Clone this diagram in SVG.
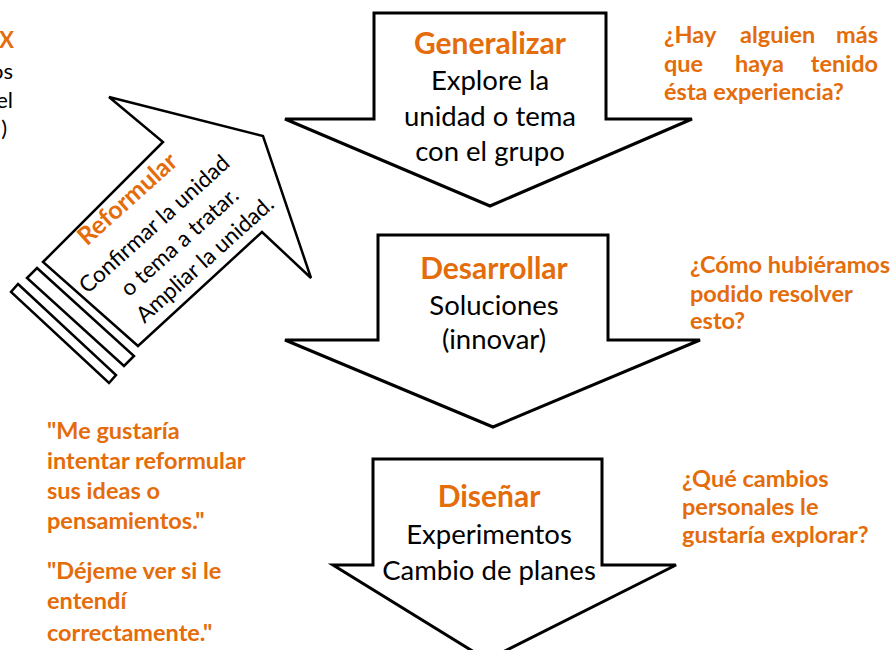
<svg xmlns="http://www.w3.org/2000/svg" width="896" height="650" viewBox="0 0 896 650">
<style>
.arrow{fill:#fff;stroke:#000;stroke-width:3;stroke-linejoin:miter}
.rarrow{fill:#fff;stroke:#000;stroke-width:2.5;stroke-linejoin:miter}
.title{font-family:Lato,"Open Sans",sans-serif;font-weight:bold;font-size:30px;fill:#E46C0A;text-anchor:middle}
.body{font-family:Lato,"Open Sans",sans-serif;font-size:27.5px;fill:#000;text-anchor:middle}
.note{font-family:Lato,"Open Sans",sans-serif;font-weight:bold;font-size:23.5px;fill:#E46C0A}
.edge{font-family:Lato,"Open Sans",sans-serif;font-size:22px;fill:#000;text-anchor:end}
.rt{font-family:Lato,"Open Sans",sans-serif;font-size:22.5px;fill:#000;text-anchor:middle}
.rtt{font-family:Lato,"Open Sans",sans-serif;font-weight:bold;font-size:25px;fill:#E46C0A;text-anchor:middle}
</style>
<rect width="896" height="650" fill="#fff"/>
<g id="clipped-text">
<text class="edge" x="14" y="48" style="font-weight:bold;fill:#E46C0A">X</text>
<text class="edge" x="13" y="79">os</text>
<text class="edge" x="13" y="108">el</text>
<text class="edge" x="7" y="136">)</text>
</g>
<g id="connectors"></g>
<g id="reformular">
<polygon class="rarrow" points="18,284 116,375 109,383 11,292"/>
<polygon class="rarrow" points="37,268 134,356 124,366 27,278"/>
<polygon class="rarrow" points="43,262 163,142 109,97 263,136 311,278 262,232 138,346"/>
<g transform="translate(43,262) rotate(-42)">
<text class="rtt" x="105" y="18">Reformular</text>
<text class="rt" x="108" y="54">Confirmar la unidad</text>
<text class="rt" x="115" y="84">o tema a tratar.</text>
<text class="rt" x="122" y="114">Ampliar la unidad.</text>
</g>
</g>
<g id="generalizar">
<polygon class="arrow" points="374,13 606,13 606,119 692,119 490,206 285,119 374,119"/>
<text class="title" x="490" y="54">Generalizar</text>
<text class="body" x="490" y="90">Explore la</text>
<text class="body" x="490" y="126">unidad o tema</text>
<text class="body" x="490" y="161">con el grupo</text>
</g>
<g id="desarrollar">
<polygon class="arrow" points="378,235 608,235 608,340 700,340 493,427 285,340 378,340"/>
<text class="title" x="494" y="279">Desarrollar</text>
<text class="body" x="494" y="315">Soluciones</text>
<text class="body" x="494" y="349">(innovar)</text>
</g>
<g id="disenar">
<polygon class="arrow" points="373,459 602,459 602,565 676,565 487,660 333,565 373,565"/>
<text class="title" x="489" y="507">Diseñar</text>
<text class="body" x="489" y="544">Experimentos</text>
<text class="body" x="489" y="580">Cambio de planes</text>
</g>
<g id="note-generalizar">
<text class="note" y="43"><tspan x="664">¿Hay</tspan><tspan x="740">alguien</tspan><tspan x="878" text-anchor="end">más</tspan></text>
<text class="note" y="72"><tspan x="664">que</tspan><tspan x="735">haya</tspan><tspan x="878" text-anchor="end">tenido</tspan></text>
<text class="note" x="664" y="100">ésta experiencia?</text>
</g>
<g id="note-desarrollar">
<text class="note" x="690" y="273">¿Cómo hubiéramos</text>
<text class="note" x="690" y="302">podido resolver</text>
<text class="note" x="690" y="329">esto?</text>
</g>
<g id="note-disenar">
<text class="note" x="682" y="487">¿Qué cambios</text>
<text class="note" x="682" y="515">personales le</text>
<text class="note" x="682" y="543">gustaría explorar?</text>
</g>
<g id="note-reformular">
<text class="note" x="47" y="439">"Me gustaría</text>
<text class="note" x="47" y="469">intentar reformular</text>
<text class="note" x="47" y="499">sus ideas o</text>
<text class="note" x="47" y="529">pensamientos."</text>
<text class="note" x="47" y="579">"Déjeme ver si le</text>
<text class="note" x="47" y="609">entendí</text>
<text class="note" x="47" y="641">correctamente."</text>
</g>
</svg>
